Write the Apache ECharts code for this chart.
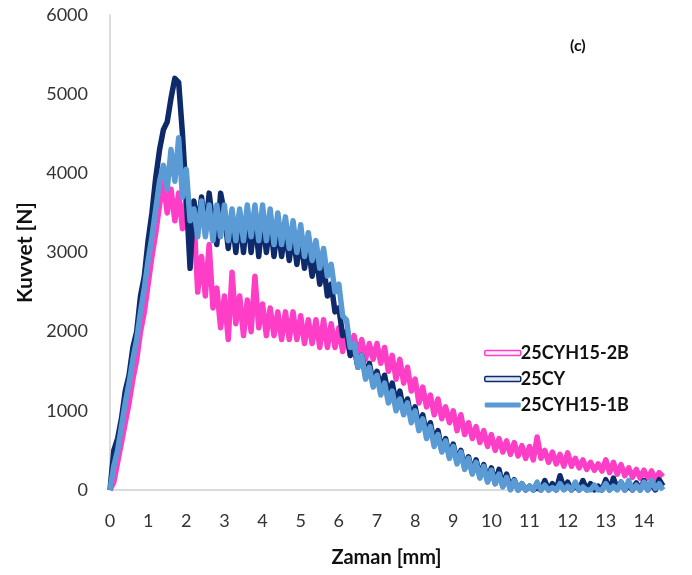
<!DOCTYPE html>
<html>
<head>
<meta charset="utf-8">
<script src="https://cdn.jsdelivr.net/npm/echarts@6/dist/echarts.min.js"></script>
<style>
  html, body { margin: 0; padding: 0; background: #fff; }
  #chart { width: 692px; height: 575px; }
</style>
</head>
<body>
<div id="chart"></div>
<script>
// Displacement samples [mm], every 0.1 mm
const displacement = [
  0.0, 0.1, 0.2, 0.3, 0.4, 0.5, 0.6, 0.7, 0.8, 0.9,
  1.0, 1.1, 1.2, 1.3, 1.4, 1.5, 1.6, 1.7, 1.8, 1.9,
  2.0, 2.1, 2.2, 2.3, 2.4, 2.5, 2.6, 2.7, 2.8, 2.9,
  3.0, 3.1, 3.2, 3.3, 3.4, 3.5, 3.6, 3.7, 3.8, 3.9,
  4.0, 4.1, 4.2, 4.3, 4.4, 4.5, 4.6, 4.7, 4.8, 4.9,
  5.0, 5.1, 5.2, 5.3, 5.4, 5.5, 5.6, 5.7, 5.8, 5.9,
  6.0, 6.1, 6.2, 6.3, 6.4, 6.5, 6.6, 6.7, 6.8, 6.9,
  7.0, 7.1, 7.2, 7.3, 7.4, 7.5, 7.6, 7.7, 7.8, 7.9,
  8.0, 8.1, 8.2, 8.3, 8.4, 8.5, 8.6, 8.7, 8.8, 8.9,
  9.0, 9.1, 9.2, 9.3, 9.4, 9.5, 9.6, 9.7, 9.8, 9.9,
  10.0, 10.1, 10.2, 10.3, 10.4, 10.5, 10.6, 10.7, 10.8, 10.9,
  11.0, 11.1, 11.2, 11.3, 11.4, 11.5, 11.6, 11.7, 11.8, 11.9,
  12.0, 12.1, 12.2, 12.3, 12.4, 12.5, 12.6, 12.7, 12.8, 12.9,
  13.0, 13.1, 13.2, 13.3, 13.4, 13.5, 13.6, 13.7, 13.8, 13.9,
  14.0, 14.1, 14.2, 14.3, 14.4, 14.5
];

// Force [N] for specimen 25CYH15-2B
const force25CYH15_2B = [
  0, 100, 350, 600, 850, 1100, 1400, 1650, 2000, 2250,
  2600, 2950, 3250, 3600, 3900, 3500, 3800, 3400, 3750, 3300,
  3700, 3200, 3450, 2500, 2950, 2450, 3100, 2300, 2550, 2050,
  2450, 1900, 2750, 2100, 2450, 1950, 2400, 2000, 2700, 2050,
  2350, 1950, 2300, 1950, 2250, 1900, 2250, 1900, 2250, 1900,
  2200, 1850, 2150, 1850, 2150, 1800, 2150, 1800, 2100, 1800,
  2050, 1750, 2000, 1700, 1950, 1700, 1900, 1650, 1850, 1650,
  1850, 1600, 1800, 1500, 1700, 1400, 1650, 1350, 1550, 1250,
  1400, 1100, 1300, 1050, 1200, 950, 1150, 900, 1050, 850,
  1000, 750, 950, 700, 850, 650, 800, 600, 750, 550,
  700, 500, 650, 480, 620, 450, 600, 430, 560, 400,
  550, 380, 670, 400, 500, 350, 480, 330, 450, 300,
  470, 300, 400, 280, 380, 260, 350, 250, 330, 240,
  380, 220, 350, 200, 320, 180, 280, 160, 260, 150,
  250, 150, 240, 130, 220, 170
];

// Force [N] for specimen 25CY
const force25CY = [
  0, 500, 650, 900, 1250, 1450, 1800, 2000, 2450, 2700,
  3150, 3500, 3950, 4300, 4550, 4650, 4950, 5200, 5150, 4500,
  3700, 2800, 3650, 3300, 3700, 3250, 3750, 3350, 3100, 3750,
  3500, 3050, 3450, 3000, 3500, 3000, 3500, 3000, 3450, 2950,
  3450, 3000, 3400, 2950, 3350, 2950, 3300, 2900, 3250, 2850,
  3200, 2800, 3100, 2700, 3000, 2600, 2850, 2450, 2600, 2250,
  2300, 1950, 2000, 1700, 1800, 1550, 1700, 1450, 1600, 1350,
  1500, 1300, 1450, 1200, 1350, 1100, 1250, 1000, 1150, 900,
  1050, 800, 950, 700, 850, 600, 750, 500, 650, 420,
  580, 350, 500, 280, 420, 220, 380, 170, 320, 120,
  280, 80, 260, 50, 200, 20, 130, 0, 80, 0,
  50, 0, 30, 0, 120, 0, 80, 0, 180, 20,
  100, 0, 60, 0, 120, 0, 80, 0, 50, 0,
  130, 0, 150, 20, 100, 0, 60, 0, 90, 0,
  120, 0, 80, 0, 130, 50
];

// Force [N] for specimen 25CYH15-1B
const force25CYH15_1B = [
  0, 300, 500, 800, 1100, 1350, 1650, 1900, 2250, 2550,
  2900, 3200, 3550, 3900, 4100, 3800, 4300, 3900, 4450, 3700,
  4050, 3400, 3550, 3200, 3650, 3200, 3600, 3150, 3600, 3200,
  3600, 3150, 3550, 3150, 3550, 3150, 3600, 3200, 3600, 3150,
  3600, 3150, 3550, 3100, 3500, 3100, 3450, 3050, 3400, 3000,
  3350, 2950, 3250, 2900, 3150, 2800, 3050, 2700, 2850, 2500,
  2600, 2200, 2150, 1800, 1850, 1550, 1700, 1400, 1550, 1300,
  1450, 1200, 1350, 1100, 1250, 1000, 1150, 950, 1100, 850,
  1000, 750, 900, 650, 800, 550, 700, 480, 620, 400,
  550, 330, 480, 260, 400, 200, 350, 150, 300, 100,
  250, 80, 200, 40, 160, 0, 120, 0, 80, 0,
  50, 0, 100, 0, 60, 0, 30, 0, 80, 0,
  50, 0, 100, 0, 40, 0, 0, 60, 0, 0,
  80, 0, 50, 0, 100, 0, 120, 0, 60, 0,
  100, 0, 120, 20, 80, 0
];

const seriesNames = ['25CYH15-2B', '25CY', '25CYH15-1B'];
const seriesColors = ['#ff3ec8', '#0e2a6b', '#5b9bd5'];
const seriesForces = [force25CYH15_2B, force25CY, force25CYH15_1B];

const xTicks = { min: 0, max: 14.5, interval: 1 };
const yTicks = { min: 0, max: 6000, interval: 1000 };

const FONT = 'Lato, "Open Sans", sans-serif';

const pairs = (ys) => displacement.map((x, i) => [x, ys[i]]);

const chart = echarts.init(document.getElementById('chart'), null, { renderer: 'canvas' });

chart.setOption({
  animation: false,
  backgroundColor: '#ffffff',
  grid: { left: 110, right: 29, top: 15, bottom: 85, containLabel: false },
  xAxis: {
    type: 'value',
    min: xTicks.min, max: xTicks.max, interval: xTicks.interval,
    axisLine: { show: true, onZero: false, lineStyle: { color: '#d0d0d0', width: 1.5 } },
    axisTick: { show: false },
    splitLine: { show: false },
    axisLabel: {
      margin: 22, color: '#333', fontSize: 18, fontFamily: FONT,
      formatter: (v) => (Number.isInteger(v) ? String(v) : '')
    },
    name: 'Zaman [mm]', nameLocation: 'middle', nameGap: 58,
    nameTextStyle: { color: '#111', fontSize: 20, fontWeight: 'bold', fontFamily: FONT }
  },
  yAxis: {
    type: 'value',
    min: yTicks.min, max: yTicks.max, interval: yTicks.interval,
    axisLine: { show: true, lineStyle: { color: '#d0d0d0', width: 1.5 } },
    axisTick: { show: false },
    splitLine: { show: false },
    axisLabel: {
      margin: 22, color: '#333', fontSize: 18, fontFamily: FONT,
      formatter: (v) => String(v)
    },
    name: 'Kuvvet [N]', nameLocation: 'middle', nameGap: 74, nameRotate: 90,
    nameTextStyle: { color: '#111', fontSize: 21, fontWeight: 'bold', fontFamily: FONT }
  },
  legend: {
    orient: 'vertical',
    left: 479, top: 339,
    itemWidth: 36, itemHeight: 5, itemGap: 8,
    icon: 'roundRect',
    textStyle: {
      color: '#111', fontSize: 18, lineHeight: 18, fontWeight: 'bold', fontFamily: FONT,
      padding: [0, 0, 0, -5]
    },
    data: [
      { name: seriesNames[0], itemStyle: { color: '#fff0fb', borderColor: seriesColors[0], borderWidth: 1.5 } },
      { name: seriesNames[1], itemStyle: { color: '#dfe6f3', borderColor: seriesColors[1], borderWidth: 1.5 } },
      { name: seriesNames[2], itemStyle: { color: seriesColors[2] } }
    ]
  },
  graphic: [
    {
      type: 'text', left: 570, top: 38,
      style: { text: '(c)', font: 'bold 16px ' + FONT, fill: '#111' }
    }
  ],
  series: seriesNames.map((name, k) => ({
    name,
    type: 'line',
    data: pairs(seriesForces[k]),
    showSymbol: false,
    symbol: 'none',
    color: seriesColors[k],
    lineStyle: { color: seriesColors[k], width: 5.5, join: 'round' },
    z: 2 + k
  }))
});
</script>
</body>
</html>
